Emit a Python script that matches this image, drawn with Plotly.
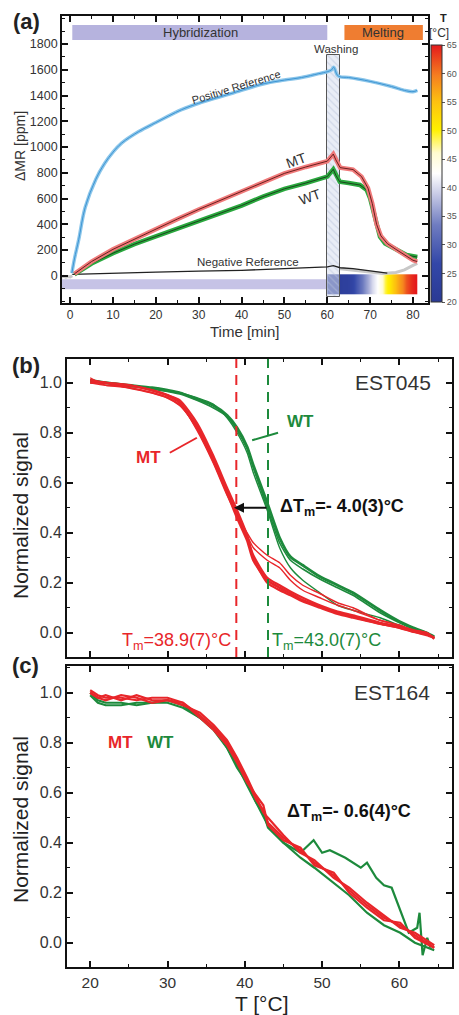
import plotly.graph_objects as go

FONT = "Liberation Sans, Arial, Helvetica, sans-serif"
W, H = 459, 1015

# ---------------- Panel (a): hybridization / washing / melting kinetics ----------------
time_pos = [0.4, 1, 2, 3.5, 6, 8, 10, 12, 16, 20, 26, 30, 35, 38, 45, 50, 54, 58, 60, 61, 61.5, 62.3, 63, 65, 70, 75, 78, 80, 81]
pos_ref = [20, 130, 280, 530, 750, 870, 960, 1030, 1120, 1190, 1290, 1340, 1390, 1420, 1490, 1520, 1540, 1570, 1585, 1600, 1620, 1560, 1545, 1540, 1510, 1470, 1440, 1430, 1440]

time_mt = [1, 5, 10, 15, 20, 25, 30, 35, 40, 45, 50, 55, 59, 60, 61.4, 62, 63, 66, 68, 69.5, 70.5, 71.5, 72.5, 74, 76, 78, 80, 81]
mt_signal = [15, 110, 205, 285, 360, 440, 515, 585, 655, 725, 795, 845, 880, 890, 945, 900, 840, 825, 770, 680, 560, 400, 310, 250, 205, 165, 120, 110]

time_wt = [1, 5, 10, 15, 20, 25, 30, 35, 40, 45, 50, 55, 59, 60, 61.4, 62, 62.9, 65, 67.6, 69.2, 70, 70.7, 72.3, 73.5, 75.4, 78.5, 81]
wt_signal = [10, 95, 175, 245, 305, 365, 425, 485, 545, 615, 675, 720, 760, 770, 827, 780, 730, 720, 705, 666, 600, 510, 303, 250, 213, 161, 145]

time_neg = [0.5, 10, 20, 30, 40, 50, 55, 60, 61.4, 63, 66, 70, 74]
neg_ref = [10, 20, 28, 35, 42, 55, 62, 68, 78, 62, 55, 35, 20]

time_base_start = [-2, -1.5, -1, -0.5, 0, 0.5]
base_start = [-10, -5, -12, -6, -10, 0]
time_base_end = [63, 66, 70, 73, 76, 78, 80, 81]
base_end = [55, 45, 30, 18, 25, 45, 80, 95]

# temperature profile during the melting phase (minute centres)
temp_time = [60.5, 61.5, 62.5, 63.5, 64.5, 65.5, 66.5, 67.5, 68.5, 69.5, 70.5,
             71.5, 72.5, 73.5, 74.5, 75.5, 76.5, 77.5, 78.5, 79.5, 80.5]
temp_values = [22, 22, 22, 23, 23, 25, 28, 31, 34, 37, 40,
               42, 45, 49, 51, 54, 57, 59, 62, 64, 65]

hyb_window = [0.5, 60]
wash_window = [60, 63]
melt_window = [64, 82.3]

# ---------------- Panel (b): EST045 ----------------
b_temp = [20, 22, 25, 28, 30, 31.6, 33.8, 35.9, 37.7, 39, 40.3, 41.1, 42.9, 44.5, 45.9, 47.5, 49.7, 52, 54, 57.5, 60, 61.8, 63.5, 64.5]
b_mt_1 = [1.01, 1.0, 0.99, 0.97, 0.95, 0.92, 0.82, 0.69, 0.56, 0.46, 0.37, 0.29, 0.21, 0.18, 0.157, 0.13, 0.104, 0.08, 0.064, 0.037, 0.02, 0.004, -0.005, -0.02]
b_mt_2 = [1.0, 1.0, 0.98, 0.96, 0.94, 0.91, 0.83, 0.70, 0.57, 0.48, 0.38, 0.31, 0.22, 0.19, 0.165, 0.14, 0.11, 0.085, 0.07, 0.04, 0.025, 0.01, 0.0, -0.025]
b_mt_3 = [1.02, 0.99, 0.99, 0.97, 0.95, 0.92, 0.81, 0.68, 0.55, 0.47, 0.40, 0.36, 0.31, 0.28, 0.23, 0.19, 0.157, 0.12, 0.10, 0.05, 0.03, 0.01, 0.0, -0.02]
b_mt_4 = [1.0, 0.99, 0.98, 0.96, 0.94, 0.91, 0.82, 0.69, 0.56, 0.47, 0.39, 0.34, 0.29, 0.26, 0.21, 0.17, 0.14, 0.11, 0.09, 0.05, 0.03, 0.01, 0.0, -0.02]
b_mt_5 = [1.01, 1.0, 0.99, 0.97, 0.95, 0.93, 0.84, 0.71, 0.58, 0.49, 0.39, 0.30, 0.20, 0.17, 0.15, 0.125, 0.10, 0.075, 0.06, 0.035, 0.02, 0.005, -0.01, -0.02]
b_wt_1 = [1.01, 1.0, 0.99, 0.98, 0.97, 0.96, 0.935, 0.91, 0.87, 0.82, 0.744, 0.67, 0.52, 0.38, 0.304, 0.27, 0.225, 0.19, 0.16, 0.09, 0.045, 0.02, 0.0, -0.016]
b_wt_2 = [1.0, 1.0, 0.99, 0.975, 0.965, 0.955, 0.93, 0.90, 0.865, 0.81, 0.735, 0.66, 0.50, 0.36, 0.29, 0.255, 0.215, 0.18, 0.15, 0.08, 0.04, 0.015, 0.0, -0.02]
b_wt_3 = [1.01, 1.0, 0.985, 0.98, 0.97, 0.96, 0.94, 0.915, 0.86, 0.80, 0.72, 0.64, 0.49, 0.34, 0.26, 0.21, 0.16, 0.11, 0.09, 0.06, 0.03, 0.01, 0.0, -0.02]
tm_mt_b = 38.9
tm_wt_b = 43.0

# ---------------- Panel (c): EST164 ----------------
c_temp = [20, 21, 22, 24, 26, 28, 30, 32, 34.2, 36, 37.7, 39, 40.3, 41.5, 42.4, 43, 45, 47.2, 49, 51.5, 53.5, 55.8, 58, 60.1, 62, 64.5]
c_mt_1 = [1.01, 0.99, 0.98, 0.98, 0.97, 0.98, 0.98, 0.96, 0.91, 0.86, 0.80, 0.73, 0.65, 0.57, 0.53, 0.48, 0.42, 0.37, 0.32, 0.27, 0.21, 0.15, 0.10, 0.07, 0.03, -0.02]
c_mt_2 = [1.0, 0.98, 0.97, 0.99, 0.98, 0.96, 0.97, 0.95, 0.92, 0.87, 0.81, 0.74, 0.66, 0.58, 0.52, 0.50, 0.43, 0.36, 0.33, 0.26, 0.22, 0.16, 0.11, 0.06, 0.04, -0.01]
c_mt_3 = [1.0, 0.98, 0.99, 0.97, 0.99, 0.97, 0.97, 0.96, 0.90, 0.85, 0.79, 0.72, 0.64, 0.59, 0.55, 0.47, 0.41, 0.38, 0.31, 0.28, 0.20, 0.14, 0.09, 0.08, 0.02, -0.02]
c_wt_2 = [1.0, 0.97, 0.96, 0.96, 0.95, 0.96, 0.96, 0.94, 0.90, 0.85, 0.78, 0.71, 0.63, 0.56, 0.51, 0.47, 0.40, 0.34, 0.30, 0.24, 0.19, 0.12, 0.07, 0.04, 0.0, -0.03]
c_wt1_temp = [20, 21, 22, 24, 26, 28, 30, 32, 34.2, 36, 37.7, 39, 40.3, 41.5, 42.4, 43, 45, 47.2, 48.9, 50, 51, 53, 55, 55.8, 57, 58, 59, 60.5, 61.2, 62.3, 62.6, 63, 63.6, 64]
c_wt_1 = [0.99, 0.96, 0.95, 0.95, 0.96, 0.96, 0.97, 0.95, 0.90, 0.86, 0.78, 0.70, 0.64, 0.56, 0.52, 0.46, 0.40, 0.36, 0.41, 0.36, 0.37, 0.34, 0.30, 0.32, 0.26, 0.23, 0.22, 0.10, 0.04, 0.06, 0.12, -0.05, 0.02, -0.02]


def px(x):
    return x / W


def py(y):
    return 1 - y / H


RED = "#e8262a"
GREEN = "#1d8a3c"

fig = go.Figure()

# ----- panel (a) traces -----
fig.add_trace(go.Heatmap(
    x=temp_time, y=[-106, -28], z=[temp_values, temp_values], zsmooth="best",
    zmin=20, zmax=65, xaxis="x", yaxis="y",
    colorscale=[[0.0, "#2a3a94"], [0.15, "#3347a8"], [0.3, "#6f7cc0"], [0.42, "#c8cbe6"],
                [0.5, "#ffffff"], [0.58, "#fffbd0"], [0.67, "#fff000"], [0.78, "#fdc010"],
                [0.88, "#f57f20"], [1.0, "#e41a1c"]],
    colorbar=dict(x=px(431), xanchor="left", y=py(45), yanchor="top",
                  lenmode="pixels", len=257, thicknessmode="pixels", thickness=11,
                  xpad=0, ypad=0, outlinewidth=1, outlinecolor="#333",
                  tickvals=[20, 25, 30, 35, 40, 45, 50, 55, 60, 65], ticks="outside",
                  ticklen=3, tickcolor="#555", tickfont=dict(size=9, color="#555", family=FONT)),
    hoverinfo="skip"))

fig.add_trace(go.Bar(
    x=[(wash_window[0] + wash_window[1]) / 2], y=[1878], base=[-163],
    width=[wash_window[1] - wash_window[0]], xaxis="x", yaxis="y",
    marker=dict(color="rgba(214,222,238,0.55)", line=dict(color="#555", width=1),
                pattern=dict(shape="\\", fgcolor="#b8c2da", size=5, solidity=0.25)),
    hoverinfo="skip"))

fig.add_trace(go.Scatter(x=time_base_start, y=base_start, mode="lines",
                         line=dict(color="#c8c8c8", width=3), xaxis="x", yaxis="y"))
fig.add_trace(go.Scatter(x=time_base_end, y=base_end, mode="lines",
                         line=dict(color="#c8c8c8", width=3), xaxis="x", yaxis="y"))
fig.add_trace(go.Scatter(x=time_neg, y=neg_ref, mode="lines",
                         line=dict(color="#222222", width=1.3), xaxis="x", yaxis="y"))
fig.add_trace(go.Scatter(x=time_pos, y=pos_ref, mode="lines",
                         line=dict(color="#8cc6ea", width=3.5, shape="spline"), xaxis="x", yaxis="y"))
fig.add_trace(go.Scatter(x=time_pos, y=pos_ref, mode="lines",
                         line=dict(color="#3d95d4", width=1, shape="spline"), xaxis="x", yaxis="y"))
fig.add_trace(go.Scatter(x=time_wt, y=wt_signal, mode="lines",
                         line=dict(color="#2aa83e", width=4.5), xaxis="x", yaxis="y"))
fig.add_trace(go.Scatter(x=time_wt, y=wt_signal, mode="lines",
                         line=dict(color="#1a3a1a", width=0.9), xaxis="x", yaxis="y"))
fig.add_trace(go.Scatter(x=time_mt, y=mt_signal, mode="lines",
                         line=dict(color="#f07a7a", width=4.5), xaxis="x", yaxis="y"))
fig.add_trace(go.Scatter(x=time_mt, y=mt_signal, mode="lines",
                         line=dict(color="#5a1414", width=0.9), xaxis="x", yaxis="y"))

# ----- panel (b) traces -----
for arr, wd in [(b_wt_1, 2.8), (b_wt_2, 1.6), (b_wt_3, 1.4)]:
    fig.add_trace(go.Scatter(x=b_temp, y=arr, mode="lines",
                             line=dict(color=GREEN, width=wd, shape="spline", smoothing=0.6),
                             xaxis="x2", yaxis="y2"))
for arr, wd in [(b_mt_1, 2.6), (b_mt_2, 2.2), (b_mt_3, 1.4), (b_mt_4, 1.4), (b_mt_5, 2.2)]:
    fig.add_trace(go.Scatter(x=b_temp, y=arr, mode="lines",
                             line=dict(color=RED, width=wd, shape="spline", smoothing=0.6),
                             xaxis="x2", yaxis="y2"))

# ----- panel (c) traces -----
fig.add_trace(go.Scatter(x=c_wt1_temp, y=c_wt_1, mode="lines", line=dict(color=GREEN, width=2.2),
                         xaxis="x3", yaxis="y3"))
fig.add_trace(go.Scatter(x=c_temp, y=c_wt_2, mode="lines", line=dict(color=GREEN, width=2.2),
                         xaxis="x3", yaxis="y3"))
for arr in [c_mt_1, c_mt_2, c_mt_3]:
    fig.add_trace(go.Scatter(x=c_temp, y=arr, mode="lines", line=dict(color=RED, width=2.2),
                             xaxis="x3", yaxis="y3"))

# ----- axes -----
def axis_style(size, minor_dtick, minor_tick0):
    return dict(showline=True, linecolor="#111", linewidth=1.8, mirror="ticks",
                ticks="inside", ticklen=6, tickwidth=1.6, tickcolor="#111",
                showgrid=False, zeroline=False,
                tickfont=dict(size=size, color="#333", family=FONT),
                minor=dict(ticks="inside", ticklen=3.5, tickwidth=1.4, tickcolor="#111",
                           dtick=minor_dtick, tick0=minor_tick0, showgrid=False))


xa = axis_style(12, 5, 0)
xa.update(domain=[px(62), px(428)], anchor="y", range=[-1.9, 83.5], tickmode="linear", tick0=0, dtick=10)
ya = axis_style(12.5, 100, 0)
ya.update(domain=[py(303), py(16)], anchor="x", range=[-212, 2018], tickmode="array",
          tickvals=[0, 200, 400, 600, 800, 1000, 1200, 1400, 1600, 1800])
xb = axis_style(16, 5, 0)
xb.update(domain=[px(67), px(452)], anchor="y2", range=[17, 66.8], tickmode="linear", tick0=0, dtick=10,
          showticklabels=False)
yb = axis_style(16, 0.1, 0)
yb.update(domain=[py(657), py(359)], anchor="x2", range=[-0.097, 1.095], tickmode="linear", tick0=0,
          dtick=0.2, tickformat=".1f")
xc = axis_style(15.5, 5, 0)
xc.update(domain=[px(67), px(452)], anchor="y3", range=[17, 66.8], tickmode="linear", tick0=0, dtick=10)
yc = axis_style(16, 0.1, 0)
yc.update(domain=[py(967), py(666)], anchor="x3", range=[-0.097, 1.107], tickmode="linear", tick0=0,
          dtick=0.2, tickformat=".1f")

shapes = [
    # hybridization / melting phase bars
    dict(type="rect", xref="x", yref="y", x0=hyb_window[0], x1=hyb_window[1], y0=1832, y1=1948,
         fillcolor="#b6b3de", line=dict(width=0), layer="below"),
    dict(type="rect", xref="x", yref="y", x0=melt_window[0], x1=melt_window[1], y0=1832, y1=1948,
         fillcolor="#ef7d31", line=dict(width=0), layer="below"),
    # bottom lavender strip for hybridization period
    dict(type="rect", xref="x", yref="y", x0=-1.9, x1=hyb_window[1], y0=-106, y1=-28,
         fillcolor="#c6c3e6", line=dict(width=0), layer="below"),
    # Tm dashed lines in (b)
    dict(type="line", xref="x2", yref="y2 domain", x0=tm_mt_b, x1=tm_mt_b, y0=0, y1=1,
         line=dict(color=RED, width=2, dash="10px,7px")),
    dict(type="line", xref="x2", yref="y2 domain", x0=tm_wt_b, x1=tm_wt_b, y0=0, y1=1,
         line=dict(color=GREEN, width=2, dash="10px,7px")),
    # label leader lines in (b)
    dict(type="line", xref="x2", yref="y2", x0=40.95, y0=0.77, x1=44.3, y1=0.80,
         line=dict(color=GREEN, width=2)),
    dict(type="line", xref="x2", yref="y2", x0=30.3, y0=0.72, x1=33.8, y1=0.78,
         line=dict(color=RED, width=2)),
]


def note(text, x, y, size, color="#333", xref="paper", yref="paper", angle=0, xanchor="center"):
    return dict(text=text, xref=xref, yref=yref, x=x, y=y, showarrow=False, textangle=angle,
                xanchor=xanchor, yanchor="middle", font=dict(size=size, color=color, family=FONT))


annotations = [
    note("<b>(a)</b>", px(26), py(22), 22, "#222"),
    note("<b>(b)</b>", px(26), py(366), 22, "#222"),
    note("<b>(c)</b>", px(25), py(665), 22, "#222"),
    # axis titles
    note("ΔMR [ppm]", px(20), py(146), 14, angle=-90),
    note("Time [min]", px(245), py(331), 15),
    note("Normalized signal", px(20), py(516), 21, "#222", angle=-90),
    note("Normalized signal", px(20), py(820), 21, "#222", angle=-90),
    note("T [°C]", px(262), py(1003), 21, "#222"),
    # colorbar title
    note("<b>T</b>", px(443), py(18), 11, "#222"),
    note("[°C]", px(439), py(33), 12),
    # panel (a) labels
    note("Hybridization", 30.3, 1890, 13, xref="x", yref="y"),
    note("Melting", 73, 1890, 13, xref="x", yref="y"),
    note("Washing", 62, 1762, 11.5, xref="x", yref="y"),
    note("Positive Reference", 38.7, 1466, 11, xref="x", yref="y", angle=-17),
    note("MT", 52.9, 898, 14, xref="x", yref="y", angle=-20),
    note("WT", 55.9, 610, 14, xref="x", yref="y", angle=-20),
    note("Negative Reference", 41.5, 106, 11.5, xref="x", yref="y"),
    # panel (b) labels
    note("EST045", 64.4, 1.0, 21, xref="x2", yref="y2", xanchor="right"),
    note("<b>WT</b>", 47.2, 0.843, 17, GREEN, xref="x2", yref="y2"),
    note("<b>MT</b>", 27.6, 0.70, 17, RED, xref="x2", yref="y2"),
    dict(text="", xref="x2", yref="y2", axref="x2", ayref="y2", x=38.6, y=0.5, ax=43.0, ay=0.5,
         showarrow=True, arrowhead=2, arrowsize=1, arrowwidth=2, arrowcolor="#111"),
    note("<b>ΔT<sub>m</sub>=- 4.0(3)°C</b>", 44.3, 0.5, 18, "#111", xref="x2", yref="y2", xanchor="left"),
    note("T<sub>m</sub>=38.9(7)°C", 38.5, -0.035, 18, RED, xref="x2", yref="y2", xanchor="right"),
    note("T<sub>m</sub>=43.0(7)°C", 43.2, -0.035, 18, GREEN, xref="x2", yref="y2", xanchor="left"),
    # panel (c) labels
    note("EST164", 64.2, 1.0, 21, xref="x3", yref="y3", xanchor="right"),
    note("<b>MT</b>", 23.9, 0.80, 17, RED, xref="x3", yref="y3"),
    note("<b>WT</b>", 29.1, 0.80, 17, GREEN, xref="x3", yref="y3"),
    note("<b>ΔT<sub>m</sub>=- 0.6(4)°C</b>", 45.2, 0.523, 18, "#111", xref="x3", yref="y3", xanchor="left"),
]

fig.update_layout(
    width=W, height=H, autosize=False, margin=dict(l=0, r=0, t=0, b=0),
    paper_bgcolor="white", plot_bgcolor="white", showlegend=False,
    font=dict(family=FONT, color="#222"), bargap=0,
    xaxis=xa, yaxis=ya, xaxis2=xb, yaxis2=yb, xaxis3=xc, yaxis3=yc,
    shapes=shapes, annotations=annotations,
)

fig.write_html("out.html", config={"displayModeBar": False},
               post_script="document.body.style.margin='0';")
